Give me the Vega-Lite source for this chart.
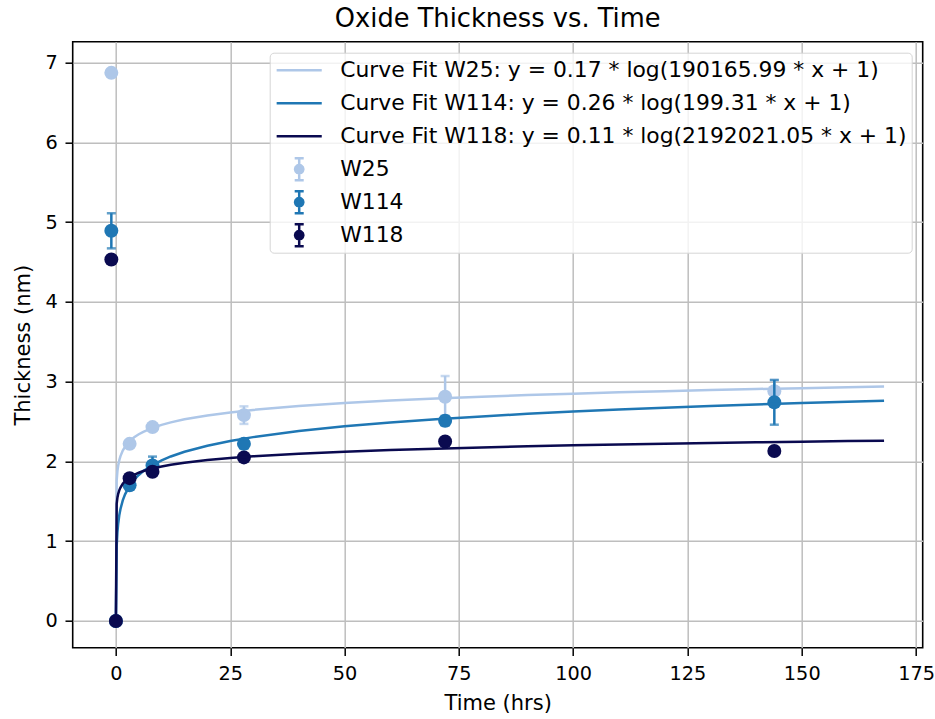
{
  "$schema": "https://vega.github.io/schema/vega-lite/v6.json",
  "width": 850,
  "height": 606,
  "autosize": {"type": "none"},
  "padding": {"left": 72.7, "top": 41.7, "right": 12.3, "bottom": 71.3},
  "background": "white",
  "title": {"text": "Oxide Thickness vs. Time", "font": "DejaVu Sans", "fontSize": 25.7, "fontWeight": "normal", "color": "#000", "anchor": "middle", "frame": "group", "baseline": "alphabetic", "offset": 13.7, "dy": 24.5},
  "config": {
    "view": {"stroke": "#000", "strokeWidth": 1.6},
    "axis": {"domain": false, "grid": true, "gridColor": "#bebebe", "gridWidth": 1.5, "tickColor": "#000", "tickWidth": 1.5, "tickSize": 7.7, "labelFont": "DejaVu Sans", "labelFontSize": 19.3, "labelColor": "#000", "titleFont": "DejaVu Sans", "titleFontSize": 21, "titleFontWeight": "normal", "titleColor": "#000", "labelPadding": 7.7, "labelFlush": false, "labelOverlap": false},
    "legend": {"orient": "top-right", "offset": 11, "labelFont": "DejaVu Sans", "labelFontSize": 21.85, "labelColor": "#000", "labelLimit": 1000, "symbolSize": 484, "symbolOffset": 12, "labelOffset": 28.5, "rowPadding": 8, "padding": 5, "cornerRadius": 4, "strokeColor": "#d5d5d5", "fillColor": "rgba(255,255,255,0.8)", "symbolOpacity": 1, "symbolStrokeWidth": 2.5}
  },
  "datasets": {
    "pts": [
      {"grp": "W25", "series": "W25", "x": -1, "y": 6.87, "lo": 6.87, "hi": 6.87},
      {"grp": "W25", "series": "W25", "x": 0, "y": 0, "lo": 0, "hi": 0},
      {"grp": "W25", "series": "W25", "x": 3, "y": 2.22, "lo": 2.18, "hi": 2.26},
      {"grp": "W25", "series": "W25", "x": 8, "y": 2.43, "lo": 2.39, "hi": 2.47},
      {"grp": "W25", "series": "W25", "x": 28, "y": 2.58, "lo": 2.47, "hi": 2.69},
      {"grp": "W25", "series": "W25", "x": 72, "y": 2.81, "lo": 2.55, "hi": 3.07},
      {"grp": "W25", "series": "W25", "x": 144, "y": 2.88, "lo": 2.74, "hi": 3.02},
      {"grp": "W114", "series": "W114", "x": -1, "y": 4.89, "lo": 4.67, "hi": 5.11},
      {"grp": "W114", "series": "W114", "x": 0, "y": 0, "lo": 0, "hi": 0},
      {"grp": "W114", "series": "W114", "x": 3, "y": 1.70, "lo": 1.65, "hi": 1.75},
      {"grp": "W114", "series": "W114", "x": 8, "y": 1.95, "lo": 1.84, "hi": 2.06},
      {"grp": "W114", "series": "W114", "x": 28, "y": 2.22, "lo": 2.16, "hi": 2.28},
      {"grp": "W114", "series": "W114", "x": 72, "y": 2.51, "lo": 2.45, "hi": 2.57},
      {"grp": "W114", "series": "W114", "x": 144, "y": 2.74, "lo": 2.46, "hi": 3.02},
      {"grp": "W118", "series": "W118", "x": -1, "y": 4.53, "lo": 4.50, "hi": 4.56},
      {"grp": "W118", "series": "W118", "x": 0, "y": 0, "lo": 0, "hi": 0},
      {"grp": "W118", "series": "W118", "x": 3, "y": 1.79, "lo": 1.74, "hi": 1.84},
      {"grp": "W118", "series": "W118", "x": 8, "y": 1.87, "lo": 1.82, "hi": 1.92},
      {"grp": "W118", "series": "W118", "x": 28, "y": 2.05, "lo": 2.01, "hi": 2.09},
      {"grp": "W118", "series": "W118", "x": 72, "y": 2.25, "lo": 2.21, "hi": 2.29},
      {"grp": "W118", "series": "W118", "x": 144, "y": 2.13, "lo": 2.09, "hi": 2.17}
    ],
    "fit": [
      {"grp": "W25", "series": "Curve Fit W25: y = 0.17 * log(190165.99 * x + 1)", "x": 0, "y": 0},
      {"grp": "W25", "series": "Curve Fit W25: y = 0.17 * log(190165.99 * x + 1)", "x": 0.168, "y": 1.763},
      {"grp": "W25", "series": "Curve Fit W25: y = 0.17 * log(190165.99 * x + 1)", "x": 0.336, "y": 1.881},
      {"grp": "W25", "series": "Curve Fit W25: y = 0.17 * log(190165.99 * x + 1)", "x": 0.5, "y": 1.949},
      {"grp": "W25", "series": "Curve Fit W25: y = 0.17 * log(190165.99 * x + 1)", "x": 0.75, "y": 2.018},
      {"grp": "W25", "series": "Curve Fit W25: y = 0.17 * log(190165.99 * x + 1)", "x": 1, "y": 2.066},
      {"grp": "W25", "series": "Curve Fit W25: y = 0.17 * log(190165.99 * x + 1)", "x": 1.5, "y": 2.135},
      {"grp": "W25", "series": "Curve Fit W25: y = 0.17 * log(190165.99 * x + 1)", "x": 2, "y": 2.184},
      {"grp": "W25", "series": "Curve Fit W25: y = 0.17 * log(190165.99 * x + 1)", "x": 3, "y": 2.253},
      {"grp": "W25", "series": "Curve Fit W25: y = 0.17 * log(190165.99 * x + 1)", "x": 4, "y": 2.302},
      {"grp": "W25", "series": "Curve Fit W25: y = 0.17 * log(190165.99 * x + 1)", "x": 5, "y": 2.340},
      {"grp": "W25", "series": "Curve Fit W25: y = 0.17 * log(190165.99 * x + 1)", "x": 6, "y": 2.371},
      {"grp": "W25", "series": "Curve Fit W25: y = 0.17 * log(190165.99 * x + 1)", "x": 8, "y": 2.420},
      {"grp": "W25", "series": "Curve Fit W25: y = 0.17 * log(190165.99 * x + 1)", "x": 10, "y": 2.458},
      {"grp": "W25", "series": "Curve Fit W25: y = 0.17 * log(190165.99 * x + 1)", "x": 12, "y": 2.489},
      {"grp": "W25", "series": "Curve Fit W25: y = 0.17 * log(190165.99 * x + 1)", "x": 15, "y": 2.527},
      {"grp": "W25", "series": "Curve Fit W25: y = 0.17 * log(190165.99 * x + 1)", "x": 20, "y": 2.576},
      {"grp": "W25", "series": "Curve Fit W25: y = 0.17 * log(190165.99 * x + 1)", "x": 25, "y": 2.614},
      {"grp": "W25", "series": "Curve Fit W25: y = 0.17 * log(190165.99 * x + 1)", "x": 30, "y": 2.645},
      {"grp": "W25", "series": "Curve Fit W25: y = 0.17 * log(190165.99 * x + 1)", "x": 40, "y": 2.694},
      {"grp": "W25", "series": "Curve Fit W25: y = 0.17 * log(190165.99 * x + 1)", "x": 50, "y": 2.732},
      {"grp": "W25", "series": "Curve Fit W25: y = 0.17 * log(190165.99 * x + 1)", "x": 60, "y": 2.763},
      {"grp": "W25", "series": "Curve Fit W25: y = 0.17 * log(190165.99 * x + 1)", "x": 70, "y": 2.789},
      {"grp": "W25", "series": "Curve Fit W25: y = 0.17 * log(190165.99 * x + 1)", "x": 80, "y": 2.811},
      {"grp": "W25", "series": "Curve Fit W25: y = 0.17 * log(190165.99 * x + 1)", "x": 90, "y": 2.831},
      {"grp": "W25", "series": "Curve Fit W25: y = 0.17 * log(190165.99 * x + 1)", "x": 100, "y": 2.849},
      {"grp": "W25", "series": "Curve Fit W25: y = 0.17 * log(190165.99 * x + 1)", "x": 110, "y": 2.866},
      {"grp": "W25", "series": "Curve Fit W25: y = 0.17 * log(190165.99 * x + 1)", "x": 120, "y": 2.880},
      {"grp": "W25", "series": "Curve Fit W25: y = 0.17 * log(190165.99 * x + 1)", "x": 130, "y": 2.894},
      {"grp": "W25", "series": "Curve Fit W25: y = 0.17 * log(190165.99 * x + 1)", "x": 140, "y": 2.907},
      {"grp": "W25", "series": "Curve Fit W25: y = 0.17 * log(190165.99 * x + 1)", "x": 150, "y": 2.918},
      {"grp": "W25", "series": "Curve Fit W25: y = 0.17 * log(190165.99 * x + 1)", "x": 160, "y": 2.929},
      {"grp": "W25", "series": "Curve Fit W25: y = 0.17 * log(190165.99 * x + 1)", "x": 168, "y": 2.938},
      {"grp": "W114", "series": "Curve Fit W114: y = 0.26 * log(199.31 * x + 1)", "x": 0, "y": 0},
      {"grp": "W114", "series": "Curve Fit W114: y = 0.26 * log(199.31 * x + 1)", "x": 0.168, "y": 0.938},
      {"grp": "W114", "series": "Curve Fit W114: y = 0.26 * log(199.31 * x + 1)", "x": 0.336, "y": 1.118},
      {"grp": "W114", "series": "Curve Fit W114: y = 0.26 * log(199.31 * x + 1)", "x": 0.5, "y": 1.222},
      {"grp": "W114", "series": "Curve Fit W114: y = 0.26 * log(199.31 * x + 1)", "x": 0.75, "y": 1.329},
      {"grp": "W114", "series": "Curve Fit W114: y = 0.26 * log(199.31 * x + 1)", "x": 1, "y": 1.404},
      {"grp": "W114", "series": "Curve Fit W114: y = 0.26 * log(199.31 * x + 1)", "x": 1.5, "y": 1.511},
      {"grp": "W114", "series": "Curve Fit W114: y = 0.26 * log(199.31 * x + 1)", "x": 2, "y": 1.587},
      {"grp": "W114", "series": "Curve Fit W114: y = 0.26 * log(199.31 * x + 1)", "x": 3, "y": 1.695},
      {"grp": "W114", "series": "Curve Fit W114: y = 0.26 * log(199.31 * x + 1)", "x": 4, "y": 1.771},
      {"grp": "W114", "series": "Curve Fit W114: y = 0.26 * log(199.31 * x + 1)", "x": 5, "y": 1.830},
      {"grp": "W114", "series": "Curve Fit W114: y = 0.26 * log(199.31 * x + 1)", "x": 6, "y": 1.878},
      {"grp": "W114", "series": "Curve Fit W114: y = 0.26 * log(199.31 * x + 1)", "x": 8, "y": 1.954},
      {"grp": "W114", "series": "Curve Fit W114: y = 0.26 * log(199.31 * x + 1)", "x": 10, "y": 2.013},
      {"grp": "W114", "series": "Curve Fit W114: y = 0.26 * log(199.31 * x + 1)", "x": 12, "y": 2.062},
      {"grp": "W114", "series": "Curve Fit W114: y = 0.26 * log(199.31 * x + 1)", "x": 15, "y": 2.121},
      {"grp": "W114", "series": "Curve Fit W114: y = 0.26 * log(199.31 * x + 1)", "x": 20, "y": 2.197},
      {"grp": "W114", "series": "Curve Fit W114: y = 0.26 * log(199.31 * x + 1)", "x": 25, "y": 2.256},
      {"grp": "W114", "series": "Curve Fit W114: y = 0.26 * log(199.31 * x + 1)", "x": 30, "y": 2.304},
      {"grp": "W114", "series": "Curve Fit W114: y = 0.26 * log(199.31 * x + 1)", "x": 40, "y": 2.381},
      {"grp": "W114", "series": "Curve Fit W114: y = 0.26 * log(199.31 * x + 1)", "x": 50, "y": 2.440},
      {"grp": "W114", "series": "Curve Fit W114: y = 0.26 * log(199.31 * x + 1)", "x": 60, "y": 2.488},
      {"grp": "W114", "series": "Curve Fit W114: y = 0.26 * log(199.31 * x + 1)", "x": 70, "y": 2.529},
      {"grp": "W114", "series": "Curve Fit W114: y = 0.26 * log(199.31 * x + 1)", "x": 80, "y": 2.564},
      {"grp": "W114", "series": "Curve Fit W114: y = 0.26 * log(199.31 * x + 1)", "x": 90, "y": 2.596},
      {"grp": "W114", "series": "Curve Fit W114: y = 0.26 * log(199.31 * x + 1)", "x": 100, "y": 2.624},
      {"grp": "W114", "series": "Curve Fit W114: y = 0.26 * log(199.31 * x + 1)", "x": 110, "y": 2.649},
      {"grp": "W114", "series": "Curve Fit W114: y = 0.26 * log(199.31 * x + 1)", "x": 120, "y": 2.672},
      {"grp": "W114", "series": "Curve Fit W114: y = 0.26 * log(199.31 * x + 1)", "x": 130, "y": 2.693},
      {"grp": "W114", "series": "Curve Fit W114: y = 0.26 * log(199.31 * x + 1)", "x": 140, "y": 2.713},
      {"grp": "W114", "series": "Curve Fit W114: y = 0.26 * log(199.31 * x + 1)", "x": 150, "y": 2.731},
      {"grp": "W114", "series": "Curve Fit W114: y = 0.26 * log(199.31 * x + 1)", "x": 160, "y": 2.748},
      {"grp": "W114", "series": "Curve Fit W114: y = 0.26 * log(199.31 * x + 1)", "x": 168, "y": 2.761},
      {"grp": "W118", "series": "Curve Fit W118: y = 0.11 * log(2192021.05 * x + 1)", "x": 0, "y": 0},
      {"grp": "W118", "series": "Curve Fit W118: y = 0.11 * log(2192021.05 * x + 1)", "x": 0.168, "y": 1.469},
      {"grp": "W118", "series": "Curve Fit W118: y = 0.11 * log(2192021.05 * x + 1)", "x": 0.336, "y": 1.548},
      {"grp": "W118", "series": "Curve Fit W118: y = 0.11 * log(2192021.05 * x + 1)", "x": 0.5, "y": 1.594},
      {"grp": "W118", "series": "Curve Fit W118: y = 0.11 * log(2192021.05 * x + 1)", "x": 0.75, "y": 1.640},
      {"grp": "W118", "series": "Curve Fit W118: y = 0.11 * log(2192021.05 * x + 1)", "x": 1, "y": 1.673},
      {"grp": "W118", "series": "Curve Fit W118: y = 0.11 * log(2192021.05 * x + 1)", "x": 1.5, "y": 1.720},
      {"grp": "W118", "series": "Curve Fit W118: y = 0.11 * log(2192021.05 * x + 1)", "x": 2, "y": 1.753},
      {"grp": "W118", "series": "Curve Fit W118: y = 0.11 * log(2192021.05 * x + 1)", "x": 3, "y": 1.799},
      {"grp": "W118", "series": "Curve Fit W118: y = 0.11 * log(2192021.05 * x + 1)", "x": 4, "y": 1.832},
      {"grp": "W118", "series": "Curve Fit W118: y = 0.11 * log(2192021.05 * x + 1)", "x": 5, "y": 1.858},
      {"grp": "W118", "series": "Curve Fit W118: y = 0.11 * log(2192021.05 * x + 1)", "x": 6, "y": 1.879},
      {"grp": "W118", "series": "Curve Fit W118: y = 0.11 * log(2192021.05 * x + 1)", "x": 8, "y": 1.911},
      {"grp": "W118", "series": "Curve Fit W118: y = 0.11 * log(2192021.05 * x + 1)", "x": 10, "y": 1.937},
      {"grp": "W118", "series": "Curve Fit W118: y = 0.11 * log(2192021.05 * x + 1)", "x": 12, "y": 1.958},
      {"grp": "W118", "series": "Curve Fit W118: y = 0.11 * log(2192021.05 * x + 1)", "x": 15, "y": 1.984},
      {"grp": "W118", "series": "Curve Fit W118: y = 0.11 * log(2192021.05 * x + 1)", "x": 20, "y": 2.017},
      {"grp": "W118", "series": "Curve Fit W118: y = 0.11 * log(2192021.05 * x + 1)", "x": 25, "y": 2.042},
      {"grp": "W118", "series": "Curve Fit W118: y = 0.11 * log(2192021.05 * x + 1)", "x": 30, "y": 2.063},
      {"grp": "W118", "series": "Curve Fit W118: y = 0.11 * log(2192021.05 * x + 1)", "x": 40, "y": 2.096},
      {"grp": "W118", "series": "Curve Fit W118: y = 0.11 * log(2192021.05 * x + 1)", "x": 50, "y": 2.122},
      {"grp": "W118", "series": "Curve Fit W118: y = 0.11 * log(2192021.05 * x + 1)", "x": 60, "y": 2.142},
      {"grp": "W118", "series": "Curve Fit W118: y = 0.11 * log(2192021.05 * x + 1)", "x": 70, "y": 2.160},
      {"grp": "W118", "series": "Curve Fit W118: y = 0.11 * log(2192021.05 * x + 1)", "x": 80, "y": 2.175},
      {"grp": "W118", "series": "Curve Fit W118: y = 0.11 * log(2192021.05 * x + 1)", "x": 90, "y": 2.189},
      {"grp": "W118", "series": "Curve Fit W118: y = 0.11 * log(2192021.05 * x + 1)", "x": 100, "y": 2.201},
      {"grp": "W118", "series": "Curve Fit W118: y = 0.11 * log(2192021.05 * x + 1)", "x": 110, "y": 2.212},
      {"grp": "W118", "series": "Curve Fit W118: y = 0.11 * log(2192021.05 * x + 1)", "x": 120, "y": 2.222},
      {"grp": "W118", "series": "Curve Fit W118: y = 0.11 * log(2192021.05 * x + 1)", "x": 130, "y": 2.231},
      {"grp": "W118", "series": "Curve Fit W118: y = 0.11 * log(2192021.05 * x + 1)", "x": 140, "y": 2.239},
      {"grp": "W118", "series": "Curve Fit W118: y = 0.11 * log(2192021.05 * x + 1)", "x": 150, "y": 2.247},
      {"grp": "W118", "series": "Curve Fit W118: y = 0.11 * log(2192021.05 * x + 1)", "x": 160, "y": 2.255},
      {"grp": "W118", "series": "Curve Fit W118: y = 0.11 * log(2192021.05 * x + 1)", "x": 168, "y": 2.260}
    ]
  },
  "encoding": {
    "x": {"field": "x", "type": "quantitative", "scale": {"domain": [-9.45, 176.45], "nice": false, "zero": false}, "axis": {"values": [0, 25, 50, 75, 100, 125, 150, 175], "title": "Time (hrs)", "labelPadding": 9, "titlePadding": 9}},
    "y": {"field": "y", "type": "quantitative", "scale": {"domain": [-0.335, 7.26], "nice": false, "zero": false}, "axis": {"values": [0, 1, 2, 3, 4, 5, 6, 7], "title": "Thickness (nm)", "titlePadding": 12}},
    "color": {
      "field": "series", "type": "nominal",
      "scale": {
        "domain": ["Curve Fit W25: y = 0.17 * log(190165.99 * x + 1)", "Curve Fit W114: y = 0.26 * log(199.31 * x + 1)", "Curve Fit W118: y = 0.11 * log(2192021.05 * x + 1)", "W25", "W114", "W118"],
        "range": ["#aec7e8", "#1f77b4", "#0a0a50", "#aec7e8", "#1f77b4", "#0a0a50"]
      },
      "legend": {
        "title": null,
        "encode": {
          "symbols": {
            "update": {
              "shape": {"signal": "indexof(['W25','W114','W118'], datum.value) >= 0 ? 'M0,-1L0,1M-0.41,-1L0.41,-1M-0.41,1L0.41,1M0.38,0L0.329,0.19L0.19,0.329L0,0.38L-0.19,0.329L-0.329,0.19L-0.38,0L-0.329,-0.19L-0.19,-0.329L0,-0.38L0.19,-0.329L0.329,-0.19Z' : 'M-2.05,0L2.05,0M0,-1L0,-1M0,1L0,1'"},
              "fill": {"scale": "color", "field": "value"},
              "stroke": {"scale": "color", "field": "value"},
              "strokeWidth": {"value": 2.5},
              "strokeJoin": {"value": "round"},
              "opacity": {"value": 1}
            }
          }
        }
      }
    }
  },
  "layer": [
    {"data": {"name": "pts"}, "transform": [{"filter": {"field": "grp", "equal": "W25"}}], "mark": {"type": "errorbar", "ticks": true, "size": 9, "thickness": 2.5}, "encoding": {"y": {"field": "lo", "type": "quantitative", "title": "Thickness (nm)"}, "y2": {"field": "hi"}}},
    {"data": {"name": "pts"}, "transform": [{"filter": {"field": "grp", "equal": "W25"}}], "mark": {"type": "circle", "size": 195, "opacity": 1}},
    {"data": {"name": "fit"}, "transform": [{"filter": {"field": "grp", "equal": "W25"}}], "mark": {"type": "line", "strokeWidth": 2.5}},
    {"data": {"name": "pts"}, "transform": [{"filter": {"field": "grp", "equal": "W114"}}], "mark": {"type": "errorbar", "ticks": true, "size": 9, "thickness": 2.5}, "encoding": {"y": {"field": "lo", "type": "quantitative", "title": "Thickness (nm)"}, "y2": {"field": "hi"}}},
    {"data": {"name": "pts"}, "transform": [{"filter": {"field": "grp", "equal": "W114"}}], "mark": {"type": "circle", "size": 195, "opacity": 1}},
    {"data": {"name": "fit"}, "transform": [{"filter": {"field": "grp", "equal": "W114"}}], "mark": {"type": "line", "strokeWidth": 2.5}},
    {"data": {"name": "pts"}, "transform": [{"filter": {"field": "grp", "equal": "W118"}}], "mark": {"type": "errorbar", "ticks": true, "size": 9, "thickness": 2.5}, "encoding": {"y": {"field": "lo", "type": "quantitative", "title": "Thickness (nm)"}, "y2": {"field": "hi"}}},
    {"data": {"name": "pts"}, "transform": [{"filter": {"field": "grp", "equal": "W118"}}], "mark": {"type": "circle", "size": 195, "opacity": 1}},
    {"data": {"name": "fit"}, "transform": [{"filter": {"field": "grp", "equal": "W118"}}], "mark": {"type": "line", "strokeWidth": 2.5}}
  ]
}
